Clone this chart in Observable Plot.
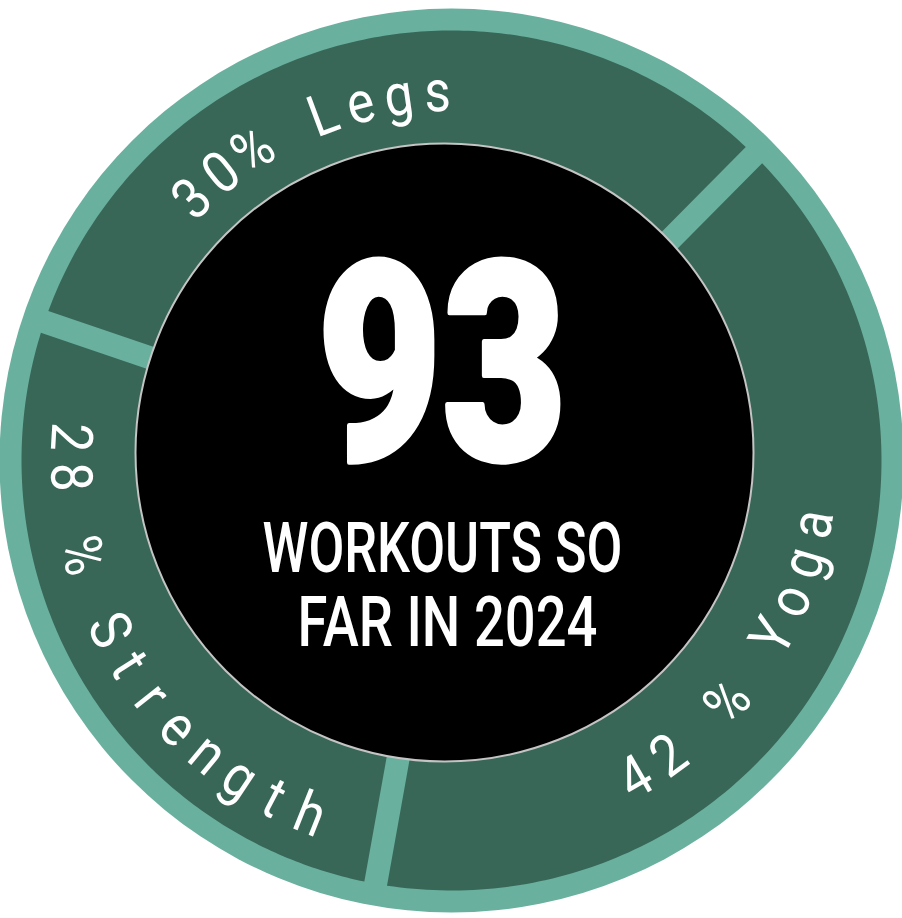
<!DOCTYPE html>
<html>
<head>
<meta charset="utf-8">
<script src="https://cdn.jsdelivr.net/npm/d3@7"></script>
<script src="https://cdn.jsdelivr.net/npm/@observablehq/plot@0.6"></script>
<style>
  html, body { margin: 0; padding: 0; background: #fff; }
  #chart svg { display: block; }
</style>
</head>
<body>
<div id="chart"></div>
<script>
// ---------------- data ----------------
const categories   = ["Legs", "Yoga", "Strength"];
const labelPercent = [30, 42, 28];                 // printed percentages
const ringShare    = [32.2, 40.4, 27.4];           // share of the ring each segment covers in the picture (%)
const ringLabels   = ["30% Legs", "42 % Yoga", "28 % Strength"];
const headline     = ["93"];
const subtitleLines = ["WORKOUTS SO", "FAR IN 2024"];

// ---------------- layout / style ----------------
const W = 902, H = 918, CX = 451, CY = 460;
const LIGHT = "#6ab09e", DARK = "#386757";
const R_OUTER = 452, R_SEG = 430, R_SEG_IN = 200, GAP = 23;
const START_DEG = -71.2;
const labelLayout = {
  Legs:     {first: -44.75, step: 6.08,  r: 368, upOut: true},
  Yoga:     {first: 149.9,  step: -6.24, r: 367, upOut: false},
  Strength: {first: 273.5,  step: -5.98, r: 382, upOut: false}
};
const HEAD = {x: -9.5, y: 1, size: 278, width: 250};
const SUB = [{x: -9, y: -111.7, width: 360}, {x: -4, y: -185, width: 300}];
const SUB_SIZE = 71;
const LABEL_SIZE = 58, LABEL_SQUASH = 0.88;

// ---------------- geometry from data ----------------
const rad = d => d * Math.PI / 180;
const polar = (r, deg) => ({x: r * Math.sin(rad(deg)), y: r * Math.cos(rad(deg))});

const segPoints = [];
let acc = START_DEG;
categories.forEach((c, i) => {
  const a0 = acc, a1 = acc + ringShare[i] * 3.6;
  acc = a1;
  const dOut = Math.asin(GAP / 2 / R_SEG) * 180 / Math.PI;
  const dIn = Math.asin(GAP / 2 / R_SEG_IN) * 180 / Math.PI;
  const n = 160;
  for (let k = 0; k <= n; k++) {
    const a = (a0 + dOut) + (a1 - a0 - 2 * dOut) * k / n;
    segPoints.push({cat: c, ...polar(R_SEG, a)});
  }
  for (let k = 0; k <= n; k++) {
    const a = (a1 - dIn) - (a1 - a0 - 2 * dIn) * k / n;
    segPoints.push({cat: c, ...polar(R_SEG_IN, a)});
  }
});

const chars = [];
categories.forEach((c, i) => {
  const L = labelLayout[c];
  [...ringLabels[i]].forEach((ch, k) => {
    if (ch === " ") return;
    const a = L.first + L.step * k;
    chars.push({ch, cat: c, ...polar(L.r, a), rot: L.upOut ? a : a - 180});
  });
});

const svg = Plot.plot({
  width: W, height: H, margin: 0,
  x: {domain: [-CX, W - CX], axis: null},
  y: {domain: [-(H - CY), CY], axis: null},
  style: {background: "white", overflow: "hidden"},
  marks: [
    Plot.dot([{x: 0, y: 0}], {x: "x", y: "y", r: R_OUTER, fill: LIGHT, stroke: null}),
    Plot.line(segPoints, {x: "x", y: "y", z: "cat", fill: DARK, stroke: null, curve: "linear-closed"}),
    Plot.dot([{x: -7, y: 8}], {x: "x", y: "y", r: 309, fill: "black", stroke: "#c4c4c4", strokeWidth: 2}),
    Plot.text(chars, {x: "x", y: "y", text: "ch", rotate: "rot", fill: "white",
      fontSize: LABEL_SIZE, fontFamily: "Roboto, sans-serif", fontWeight: 400,
      textAnchor: "middle", lineAnchor: "middle"}),
    Plot.text(headline, {x: () => HEAD.x, y: () => HEAD.y, text: d => d, fill: "white",
      stroke: "white", strokeWidth: 5, strokeLinejoin: "round",
      fontSize: HEAD.size, fontFamily: "Roboto, sans-serif", fontWeight: 900,
      textAnchor: "middle", lineAnchor: "bottom"}),
    Plot.text(subtitleLines, {x: (d, i) => SUB[i].x, y: (d, i) => SUB[i].y, text: d => d, fill: "white",
      fontSize: SUB_SIZE, fontFamily: "Roboto, sans-serif", fontWeight: 500,
      textAnchor: "middle", lineAnchor: "bottom"})
  ]
});
document.getElementById("chart").appendChild(svg);

// condensed look: squash glyphs horizontally
const groups = svg.querySelectorAll('g[aria-label="text"]');
groups[0].querySelectorAll("text").forEach(t =>
  t.setAttribute("transform", t.getAttribute("transform") + ` scale(${LABEL_SQUASH},1)`));
function fit(g, widths) {
  g.querySelectorAll("text").forEach((t, i) => {
    const w = t.getBBox().width;
    if (w > 0) t.setAttribute("transform", t.getAttribute("transform") + ` scale(${widths[i] / w},1)`);
  });
}
fit(groups[1], [HEAD.width]);
fit(groups[2], SUB.map(s => s.width));
</script>
</body>
</html>
